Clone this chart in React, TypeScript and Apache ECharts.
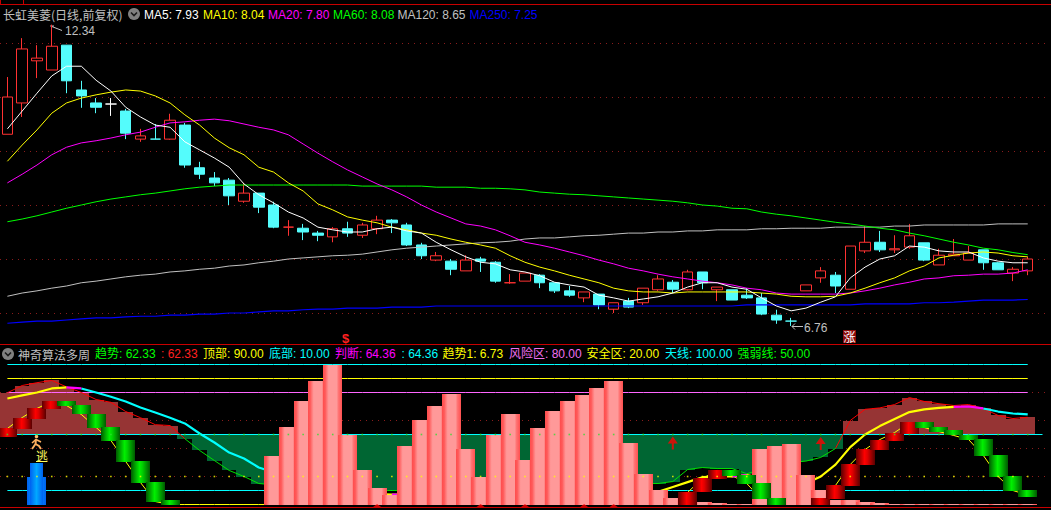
import React, { useEffect, useRef } from "react";
import * as echarts from "echarts";

const FONT = '"Liberation Sans","Noto Sans CJK SC",sans-serif';
const CJK = '"Noto Sans CJK SC","Liberation Sans",sans-serif';
const RED = "#FF3232";
const CYAN = "#54FCFC";
const GREY = "#C0C0C0";

const categories = Array.from({ length: 71 }, (_, i) => String(i + 1));

// [open, close, low, high]
const candles: number[][] = [
  [10.31, 11.0, 10.31, 11.37], [10.89, 11.89, 10.63, 12.09], [11.67, 11.72, 11.35, 11.96], [11.5, 11.94, 11.5, 12.34], [11.96, 11.3, 11.07, 11.96],
  [11.13, 11.02, 10.8, 11.3], [10.89, 10.81, 10.7, 10.98], [10.87, 10.87, 10.65, 10.98], [10.74, 10.33, 10.22, 10.78], [10.22, 10.28, 10.17, 10.41],
  [10.22, 10.22, 10.22, 10.5], [10.22, 10.57, 10.21, 10.69], [10.48, 9.74, 9.69, 10.52], [9.69, 9.57, 9.48, 9.8], [9.5, 9.41, 9.35, 9.61],
  [9.46, 9.17, 9.0, 9.5], [9.07, 9.22, 9.04, 9.41], [9.22, 8.96, 8.85, 9.22], [9.0, 8.59, 8.57, 9.06], [8.59, 8.59, 8.43, 8.72],
  [8.57, 8.5, 8.35, 8.65], [8.48, 8.44, 8.33, 8.52], [8.41, 8.56, 8.31, 8.59], [8.56, 8.48, 8.41, 8.69], [8.44, 8.63, 8.39, 8.67],
  [8.56, 8.72, 8.46, 8.8], [8.72, 8.67, 8.48, 8.74], [8.63, 8.26, 8.24, 8.67], [8.26, 8.06, 8.0, 8.3], [7.98, 8.06, 7.96, 8.13],
  [7.96, 7.81, 7.7, 8.0], [7.78, 7.98, 7.78, 8.07], [8.0, 7.96, 7.76, 8.04], [7.94, 7.59, 7.56, 7.96], [7.56, 7.56, 7.54, 7.72],
  [7.59, 7.74, 7.59, 7.74], [7.7, 7.56, 7.46, 7.72], [7.56, 7.41, 7.37, 7.56], [7.41, 7.33, 7.3, 7.5], [7.28, 7.39, 7.2, 7.39],
  [7.35, 7.15, 7.07, 7.35], [7.07, 7.19, 7.0, 7.19], [7.22, 7.11, 7.09, 7.28], [7.19, 7.46, 7.15, 7.46], [7.43, 7.63, 7.41, 7.7],
  [7.57, 7.44, 7.37, 7.61], [7.43, 7.76, 7.42, 7.8], [7.76, 7.56, 7.44, 7.76], [7.43, 7.48, 7.22, 7.48], [7.43, 7.24, 7.24, 7.43],
  [7.33, 7.28, 7.26, 7.46], [7.28, 6.98, 6.96, 7.37], [6.96, 6.87, 6.8, 7.06], [6.85, 6.85, 6.76, 6.91], [7.41, 7.52, 7.41, 7.52],
  [7.65, 7.78, 7.56, 7.85], [7.7, 7.5, 7.37, 7.76], [7.44, 8.24, 7.44, 8.24], [8.15, 8.31, 8.11, 8.61], [8.31, 8.17, 8.13, 8.52],
  [8.17, 8.19, 8.11, 8.44], [8.22, 8.43, 8.19, 8.65], [8.3, 7.98, 7.96, 8.3], [7.89, 8.07, 7.89, 8.19], [8.06, 8.09, 8.06, 8.37],
  [7.98, 8.11, 7.98, 8.24], [8.17, 7.93, 7.8, 8.17], [7.93, 7.8, 7.8, 7.94], [7.74, 7.81, 7.59, 7.85], [7.78, 8.0, 7.7, 8.04],
];
const dojiColors: Record<number, string> = { 7: "#FFFFFF", 10: CYAN, 19: RED, 34: RED, 53: CYAN };

const ma5 = [
  10.41, 10.74, 11.07, 11.39, 11.57, 11.57, 11.31, 11.11, 10.81, 10.63,
  10.48, 10.44, 10.17, 10.02, 9.87, 9.7, 9.39, 9.19, 9.04, 8.87,
  8.76, 8.59, 8.54, 8.5, 8.5, 8.56, 8.59, 8.52, 8.48, 8.31,
  8.17, 8.04, 7.94, 7.91, 7.8, 7.76, 7.69, 7.57, 7.52, 7.48,
  7.33, 7.28, 7.22, 7.26, 7.3, 7.37, 7.48, 7.56, 7.56, 7.48,
  7.44, 7.28, 7.13, 7.04, 7.09, 7.2, 7.3, 7.65, 7.85, 8.0,
  8.06, 8.24, 8.22, 8.15, 8.13, 8.13, 8.02, 7.96, 7.93, 7.93,
];
const ma10 = [
  9.81, 10.11, 10.39, 10.7, 10.89, 10.98, 11.04, 11.09, 11.13, 11.11,
  11.02, 10.89, 10.67, 10.48, 10.24, 10.06, 9.93, 9.7, 9.61, 9.41,
  9.26, 9.02, 8.91, 8.78, 8.72, 8.67, 8.59, 8.54, 8.48, 8.44,
  8.37, 8.31, 8.26, 8.2, 8.06, 7.94, 7.85, 7.78, 7.7, 7.63,
  7.56, 7.46, 7.41, 7.39, 7.39, 7.37, 7.39, 7.39, 7.39, 7.39,
  7.39, 7.37, 7.35, 7.31, 7.3, 7.3, 7.31, 7.37, 7.46, 7.56,
  7.65, 7.78, 7.87, 8.02, 8.07, 8.11, 8.13, 8.11, 8.06, 8.04,
];
const ma20 = [
  9.41, 9.57, 9.74, 9.93, 10.07, 10.15, 10.19, 10.24, 10.3, 10.35,
  10.44, 10.52, 10.54, 10.57, 10.59, 10.56, 10.5, 10.44, 10.39, 10.3,
  10.13, 9.96, 9.8, 9.65, 9.52, 9.39, 9.28, 9.15, 9.0, 8.87,
  8.76, 8.65, 8.61, 8.54, 8.43, 8.31, 8.26, 8.2, 8.13, 8.06,
  7.98, 7.91, 7.83, 7.78, 7.72, 7.67, 7.63, 7.59, 7.56, 7.52,
  7.46, 7.43, 7.37, 7.35, 7.35, 7.35, 7.35, 7.37, 7.41, 7.46,
  7.52, 7.57, 7.63, 7.65, 7.69, 7.7, 7.72, 7.72, 7.74, 7.8,
];
const ma60 = [
  8.69, 8.74, 8.8, 8.87, 8.94, 9.0, 9.06, 9.11, 9.15, 9.19,
  9.22, 9.26, 9.3, 9.33, 9.35, 9.37, 9.37, 9.37, 9.37, 9.37,
  9.37, 9.37, 9.37, 9.37, 9.35, 9.35, 9.35, 9.35, 9.35, 9.33,
  9.33, 9.33, 9.31, 9.31, 9.3, 9.28, 9.24, 9.22, 9.2, 9.19,
  9.17, 9.15, 9.13, 9.11, 9.09, 9.07, 9.04, 9.0, 8.98, 8.94,
  8.93, 8.87, 8.83, 8.8, 8.76, 8.72, 8.68, 8.65, 8.61, 8.57,
  8.54, 8.48, 8.43, 8.37, 8.31, 8.26, 8.2, 8.17, 8.12, 8.08,
];
const ma120 = [
  7.31, 7.37, 7.41, 7.46, 7.5, 7.56, 7.59, 7.63, 7.67, 7.7,
  7.72, 7.76, 7.78, 7.81, 7.83, 7.87, 7.89, 7.93, 7.96, 8.0,
  8.02, 8.04, 8.06, 8.07, 8.09, 8.13, 8.17, 8.2, 8.22, 8.24,
  8.26, 8.28, 8.3, 8.31, 8.33, 8.37, 8.39, 8.39, 8.41, 8.43,
  8.44, 8.46, 8.48, 8.48, 8.5, 8.5, 8.52, 8.52, 8.54, 8.54,
  8.54, 8.56, 8.56, 8.57, 8.57, 8.57, 8.59, 8.59, 8.59, 8.59,
  8.61, 8.61, 8.63, 8.63, 8.63, 8.63, 8.63, 8.65, 8.65, 8.65,
];
const ma250 = [
  6.81, 6.83, 6.85, 6.85, 6.87, 6.89, 6.91, 6.91, 6.93, 6.94,
  6.94, 6.96, 6.96, 6.98, 6.98, 7.0, 7.0, 7.02, 7.04, 7.04,
  7.06, 7.07, 7.07, 7.09, 7.09, 7.09, 7.11, 7.11, 7.11, 7.13,
  7.13, 7.13, 7.13, 7.13, 7.13, 7.13, 7.13, 7.13, 7.13, 7.13,
  7.13, 7.13, 7.13, 7.13, 7.13, 7.13, 7.13, 7.13, 7.13, 7.13,
  7.15, 7.15, 7.15, 7.15, 7.15, 7.15, 7.15, 7.15, 7.17, 7.17,
  7.17, 7.17, 7.19, 7.19, 7.2, 7.22, 7.24, 7.24, 7.24, 7.25,
];

// 趋势: the thin line and the stepped area around 50
const trend = [
  79.8, 85, 87, 88.6, 84, 80, 75, 73, 66.4, 62,
  57, 56.4, 47, 38.6, 31.4, 24.3, 20, 15, 14, 12,
  11, 10, 10, 10, 10, 10, 10, 10, 11, 12,
  12, 12, 12, 12, 12, 12, 12, 13, 13, 14,
  14, 14, 14, 15, 15, 16.4, 25, 26.4, 25.7, 25.7,
  22, 25, 28, 30, 31, 33.6, 40, 60, 68, 69,
  71.4, 76.4, 73.6, 72, 70.7, 71.4, 68.6, 63.6, 61.4, 62.33,
];
// 判断: the thick line
const judge = [
  75.7, 77.9, 80, 82.9, 83.6, 82.9, 80, 77, 73.6, 69.3,
  65.7, 62, 57.9, 50.7, 44.3, 37.1, 32.9, 26.4, 23, 20,
  17, 14, 12, 10, 9, 7.5, 7, 7, 7, 7,
  7, 7, 7, 7, 7, 7, 7, 7, 7, 7,
  7, 7, 7, 8, 9, 12.5, 16, 19.5, 20, 20,
  21, 19, 18, 16, 15, 20, 28.5, 41, 50, 56,
  61, 66, 68, 69, 69.7, 70, 68.6, 66.4, 65, 64.36,
];
const judgeRisingIdx = [[0, 4], [25, 26], [27, 49], [50, 64]];
const judgeTopIdx = [[4, 5], [26, 27], [49, 50], [64, 66]];
const judgeFallingIdx = [[5, 25], [66, 69]];

// 趋势1
const trend1 = [
  54.3, 62.1, 68.6, 73.6, 70.7, 64.3, 55, 45.7, 30.7, 15.7,
  2.1, 0, 0, 0, 0, 0, 0, 0, 0, 0,
  0, 0, 0, 0, 0, 0, 0, 0, 0, 0,
  0, 0, 0, 0, 0, 0, 0, 0, 0, 0,
  0, 0, 0, 0, 0, 0, 8.6, 18.6, 24.3, 20.7,
  15, 3.6, 0, 0, 0, 4.3, 13.6, 28.6, 39.3, 46.4,
  51.4, 58.6, 55, 52.1, 49.3, 46.4, 35, 20, 10, 6.73,
];
// the gradient blocks: [index, low, high]
const blocks: number[][] = [
  [0, 47.9, 54.3], [1, 53.6, 62.1], [2, 61.4, 68.6], [3, 67.9, 73.6], [4, 70.7, 73.6], [5, 64.3, 71.4], [6, 55, 65], [7, 45.7, 55.7],
  [8, 30.7, 46.4], [9, 15.7, 31.4], [10, 2.1, 16.4], [11, 0, 2.9], [46, 0, 8.6], [47, 8.6, 18.6], [48, 17.9, 24.3], [49, 20.7, 24.3],
  [50, 15, 21.4], [51, 3.6, 15.7], [52, 0, 4.3], [55, 0, 4.3], [56, 3.6, 13.6], [57, 12.9, 28.6], [58, 27.9, 39.3], [59, 38.6, 46.4],
  [60, 45.7, 51.4], [61, 50.7, 58.6], [62, 55, 58.6], [63, 52.1, 55.7], [64, 49.3, 52.9], [65, 46.4, 50], [66, 35, 47.1], [67, 20, 35.7],
  [68, 10, 20.7], [69, 5.7, 10.7],
];
// the pink columns, by index
const pink = [
  0, 0, 0, 0, 0, 0, 0, 0, 0, 0,
  0, 0, 0, 0, 0, 0, 0, 0, 35, 55.7,
  73.6, 87.9, 99.3, 49.8, 25, 12, 6.5, 42, 60.7, 70.7,
  78.6, 39.3, 19.3, 49.3, 65, 32, 55, 67, 73.6, 77.9,
  82.9, 87.9, 43.6, 22, 10.7, 5, 1.5, 1.5, 1, 0.5,
  0.5, 39.3, 42, 43, 21.4, 10.7, 3.5, 2.9, 1.5, 1,
  0.6, 0.6, 0.6, 0.6, 0.6, 0.6, 0.6, 0.6, 0.6, 0.6,
];
const blueWide: number[][] = [[2, 0, 20]];
const blueNarrow: number[][] = [[2, 0, 30]];
const arrows: number[][] = [[45, 44], [55, 43.5]];
const bottomMarks = [25, 32, 35, 39, 41];

const levelSky = 100;
const levelTop = 90;
const levelRisk = 80;
const levelMid = 50;
const levelSafe = 20;
const levelBottom = 10;

const priceGrid = [7, 8, 9, 10, 11, 12];
const lowerGrid = [20, 40, 60, 80];

const maLabels = [
  { text: "MA5: 7.93", color: "#FFFFFF", x: 144 },
  { text: "MA10: 8.04", color: "#FFFF00", x: 203 },
  { text: "MA20: 7.80", color: "#FF00FF", x: 268 },
  { text: "MA60: 8.08", color: "#00FF00", x: 333 },
  { text: "MA120: 8.65", color: GREY, x: 397.5 },
  { text: "MA250: 7.25", color: "#0000FF", x: 469.5 },
];
const lowerLabels = [
  { text: "趋势: 62.33", color: "#00FF00", x: 95 },
  { text: ": 62.33", color: "#FF2020", x: 161 },
  { text: "顶部: 90.00", color: "#FFFF00", x: 203 },
  { text: "底部: 10.00", color: "#00FFFF", x: 269 },
  { text: "判断: 64.36", color: "#FF00FF", x: 335 },
  { text: ": 64.36", color: "#00FFFF", x: 401.5 },
  { text: "趋势1: 6.73", color: "#FFFF00", x: 442.5 },
  { text: "风险区: 80.00", color: "#F070F0", x: 509 },
  { text: "安全区: 20.00", color: "#FFFF00", x: 586.5 },
  { text: "天线: 100.00", color: "#00FFFF", x: 665 },
  { text: "强弱线: 50.00", color: "#00FF00", x: 737.5 },
];

const hgrad = (stops: [number, string][]) =>
  new echarts.graphic.LinearGradient(0, 0, 1, 0, stops.map(([offset, color]) => ({ offset, color })));

const pinkFill = () =>
  hgrad([[0, "#FF4D4D"], [0.12, "#FF5A5A"], [0.2, "#FF7878"], [0.3, "#FF9999"], [0.72, "#FF9999"], [0.82, "#FF7272"], [1, "#FF5050"]]);
const redFill = () => hgrad([[0, "#5A0000"], [0.45, "#FF0000"], [0.6, "#E00000"], [1, "#5A0000"]]);
const greenFill = () => hgrad([[0, "#005A00"], [0.45, "#00F000"], [0.6, "#00D000"], [1, "#005A00"]]);
const blueFill = () => hgrad([[0, "#0060F0"], [0.5, "#00A8FF"], [1, "#0060F0"]]);

// rect column series: each data row is [index, low, high]
function rects(rows: number[][], width: number, fill: (row: number) => any, z: number) {
  return {
    type: "custom",
    xAxisIndex: 1,
    yAxisIndex: 1,
    z,
    silent: true,
    clip: false,
    data: rows,
    encode: { x: 0, y: [1, 2] },
    renderItem: (params: any, api: any) => {
      const i = api.value(0);
      const top = api.coord([i, api.value(2)]);
      const bottom = api.coord([i, api.value(1)]);
      const x = Math.round(top[0] - width / 2);
      return {
        type: "rect",
        shape: { x, y: Math.round(top[1]), width, height: Math.max(1, Math.round(bottom[1]) - Math.round(top[1])) },
        style: { fill: fill(params.dataIndex) },
      };
    },
  };
}

const pickRanges = (values: number[], ranges: number[][]) =>
  values.map((v, i) => (ranges.some(([a, b]) => i >= a && i <= b) ? v : null));

const line = (data: (number | null)[], color: string, width: number, z: number, lower = false) => ({
  type: "line",
  data,
  xAxisIndex: lower ? 1 : 0,
  yAxisIndex: lower ? 1 : 0,
  showSymbol: false,
  symbol: "none",
  silent: true,
  z,
  lineStyle: { color, width },
});

const constant = (v: number) => categories.slice(0, 70).map(() => v);

const dottedLines = (values: number[]) => ({
  silent: true,
  symbol: "none",
  z: 1,
  label: { show: false },
  lineStyle: { color: "#8A1C1C", type: [1, 5], width: 1 },
  data: values.map((yAxis) => ({ yAxis })),
});

function chevron(cx: number, cy: number) {
  return [
    { type: "circle", shape: { cx, cy, r: 6 }, style: { fill: "#808080" } },
    {
      type: "polyline",
      shape: { points: [[cx - 3, cy - 1.5], [cx, cy + 1.5], [cx + 3, cy - 1.5]] },
      style: { stroke: "#1A1A1A", lineWidth: 1.6, fill: "none" },
    },
  ];
}

const label = (text: string, x: number, y: number, fill: string, family = FONT, extra: any = {}) => ({
  type: "text",
  x,
  y,
  style: { text, fill, font: `12px ${family}`, textVerticalAlign: "middle", verticalAlign: "middle", ...extra },
});

const seg = (x1: number, y1: number, x2: number, y2: number, stroke: string, lineWidth = 1) => ({
  type: "line",
  shape: { x1, y1, x2, y2 },
  style: { stroke, lineWidth },
});

export default function App() {
  const ref = useRef<HTMLDivElement>(null);
  useEffect(() => {
    document.body.style.margin = "0";
    document.body.style.background = "#000";
    const chart = echarts.init(ref.current!, undefined, { renderer: "svg" });

    const candleItems = candles.map((value, i) => {
      const c = dojiColors[i];
      return c
        ? { value, itemStyle: { color: c, color0: c, borderColor: c, borderColor0: c, borderColorDoji: c } }
        : { value };
    });

    const areaRows = trend.map((v, i) => [i, Math.min(v, levelMid), Math.max(v, levelMid)]);
    const pinkRows = pink.map((v, i) => [i, 0, v]).filter((r) => r[2] > 0);

    const option: any = {
      animation: false,
      backgroundColor: "#000000",
      textStyle: { fontFamily: FONT },
      grid: [
        { left: -0.9, width: 1050.8, top: 16, height: 324 },
        { left: -0.9, width: 1050.8, top: 364.5, height: 140 },
      ],
      xAxis: [
        { type: "category", gridIndex: 0, data: categories, show: false },
        { type: "category", gridIndex: 1, data: categories, show: false },
      ],
      yAxis: [
        { type: "value", gridIndex: 0, min: 6.5, max: 12.5, show: false, splitLine: { show: false } },
        { type: "value", gridIndex: 1, min: 0, max: 100, show: false, splitLine: { show: false } },
      ],
      series: [
        {
          type: "candlestick",
          xAxisIndex: 0,
          yAxisIndex: 0,
          data: candleItems,
          barWidth: 11,
          silent: true,
          z: 2,
          itemStyle: { color: "#000000", color0: CYAN, borderColor: RED, borderColor0: CYAN, borderWidth: 1 },
          markLine: dottedLines(priceGrid),
        },
        line(ma120, GREY, 1, 3),
        line(ma250, "#0000FF", 1.2, 3),
        line(ma60, "#00FF00", 1, 3),
        line(ma20, "#FF00FF", 1, 3),
        line(ma10, "#FFFF00", 1, 3),
        line(ma5, "#FFFFFF", 1, 3),

        {
          ...rects(areaRows, 15, (i) => (trend[i] > levelMid ? "#963434" : "#006633"), 2),
          markLine: dottedLines(lowerGrid),
        },
        line(constant(levelSky), "#00FFFF", 1, 3, true),
        line(constant(levelTop), "#FFFF00", 1, 3, true),
        line(constant(levelRisk), "#FF66FF", 1, 3, true),
        line(categories.map(() => levelMid), "#00FFFF", 1, 3, true),
        line(constant(levelBottom), "#00FFFF", 1, 3, true),
        line(trend.map((v, i) => (i <= 12 || i >= 56 ? v : null)), "#FF0000", 1, 3, true),
        line(trend.map((v, i) => (i >= 12 && i <= 56 ? v : null)), "#00E000", 1, 3, true),
        line(trend1, "#FFFF00", 1, 3, true),
        line(pickRanges(judge, judgeFallingIdx), "#00FFFF", 2.2, 4, true),
        line(pickRanges(judge, judgeRisingIdx), "#FFFF00", 2.2, 4, true),
        line(pickRanges(judge, judgeTopIdx), "#FF00FF", 2.2, 4, true),
        rects(pinkRows, 19, () => pinkFill(), 5),
        rects(blueWide, 19, () => blueFill(), 5),
        rects(blueNarrow, 13, () => blueFill(), 5),
        rects(blocks, 19, (i) => {
          const idx = blocks[i][0];
          const rising = idx === 0 || trend1[idx] >= trend1[idx - 1];
          return rising ? redFill() : greenFill();
        }, 6),
        {
          type: "scatter",
          xAxisIndex: 1,
          yAxisIndex: 1,
          silent: true,
          z: 7,
          symbol: "rect",
          symbolSize: 1.6,
          itemStyle: { color: "#30E030" },
          data: categories.slice(0, 70).map((_, i) => [i, levelMid]),
        },
        {
          type: "scatter",
          xAxisIndex: 1,
          yAxisIndex: 1,
          silent: true,
          z: 7,
          symbol: "rect",
          symbolSize: 1.6,
          itemStyle: { color: "#FFFF00" },
          data: categories.slice(0, 70).map((_, i) => [i, levelSafe]),
        },
        {
          type: "scatter",
          xAxisIndex: 1,
          yAxisIndex: 1,
          silent: true,
          z: 7,
          symbol: "path://M5,0L10,7L6,7L6,13L4,13L4,7L0,7Z",
          symbolSize: [10, 13],
          itemStyle: { color: "#FF0000" },
          data: arrows,
        },
        {
          type: "scatter",
          xAxisIndex: 1,
          yAxisIndex: 1,
          silent: true,
          clip: false,
          z: 7,
          symbol: "triangle",
          symbolSize: [8, 3],
          itemStyle: { color: "#FF0000" },
          data: bottomMarks.map((i) => [i, -0.8]),
        },
      ],
      graphic: [
        seg(0, 4.5, 1051, 4.5, "#C80000"),
        seg(0.5, 0, 0.5, 4, "#C80000"),
        seg(23.5, 0, 23.5, 4, "#C80000"),
        seg(0, 344.5, 1051, 344.5, "#C80000"),
        seg(0, 507.5, 1051, 507.5, "#C80000"),

        label("长虹美菱(日线,前复权)", 3, 14.5, GREY, CJK),
        ...chevron(134, 14),
        ...maLabels.map((m) => label(m.text, m.x, 14.5, m.color)),
        ...chevron(8, 354),
        label("神奇算法多周", 18, 354, GREY, CJK),
        ...lowerLabels.map((m) => label(m.text, m.x, 354, m.color)),

        // high and low notes on the price panel
        seg(50.5, 26, 62, 30.5, GREY),
        seg(50.5, 26, 54, 26, GREY),
        label("12.34", 65, 31, GREY),
        seg(792, 326.5, 803, 326.5, GREY),
        seg(792, 326.5, 795, 323.5, GREY),
        seg(792, 326.5, 795, 329.5, GREY),
        label("6.76", 804, 328, GREY),

        // flags on the panel border
        { type: "text", x: 345.5, y: 338.5, style: { text: "$", fill: "#FF2020", font: `bold 13px ${FONT}`, align: "center", verticalAlign: "middle", textAlign: "center", textVerticalAlign: "middle" } },
        { type: "rect", shape: { x: 843, y: 330, width: 13, height: 13 }, style: { fill: "#8B0A0A" } },
        { type: "text", x: 849.5, y: 336.5, style: { text: "涨", fill: "#FFFFFF", font: `12px ${CJK}`, align: "center", verticalAlign: "middle", textAlign: "center", textVerticalAlign: "middle" } },

        // running figure and 逃
        { type: "circle", shape: { cx: 36.5, cy: 436.5, r: 1.8 }, style: { fill: "#FFC070" } },
        { type: "polyline", shape: { points: [[36, 439], [35.5, 444], [32, 449]] }, style: { stroke: "#FFB060", lineWidth: 2, fill: "none" } },
        { type: "polyline", shape: { points: [[35.5, 444], [39, 446], [41, 449]] }, style: { stroke: "#FFB060", lineWidth: 2, fill: "none" } },
        { type: "polyline", shape: { points: [[32, 443], [36, 439.5], [41, 442]] }, style: { stroke: "#FFB060", lineWidth: 1.6, fill: "none" } },
        label("逃", 36, 455, "#FFFF60", CJK),
        seg(36, 461.5, 47, 461.5, "#FFFF60"),
      ],
    };
    chart.setOption(option);
    return () => chart.dispose();
  }, []);
  return <div ref={ref} style={{ position: "fixed", left: 0, top: 0, width: 1051, height: 510, background: "#000" }} />;
}
